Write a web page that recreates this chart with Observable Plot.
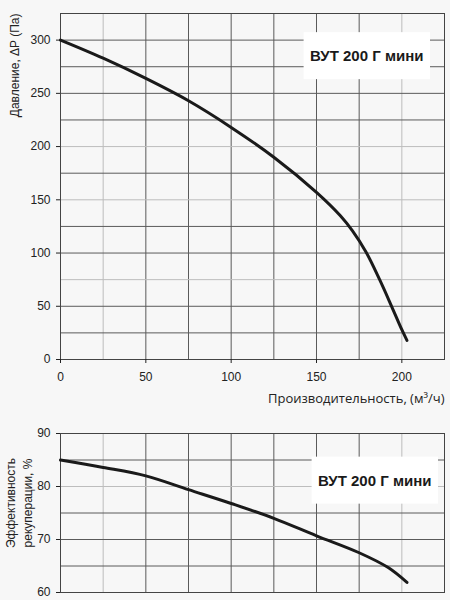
<!DOCTYPE html>
<html>
<head>
<meta charset="utf-8">
<script src="https://cdn.jsdelivr.net/npm/d3@7"></script>
<script src="https://cdn.jsdelivr.net/npm/@observablehq/plot@0.6"></script>
<style>
  html, body { margin: 0; padding: 0; background: #f7f7f7; }
  #chart { width: 450px; }
  #chart svg { display: block; }
</style>
</head>
<body>
<div id="chart"></div>
<script>
// Pressure curve
const flowP = [0, 25, 50, 75, 100, 125, 150, 164, 171, 179, 187, 194, 200, 203];
const pressure = [300, 283, 264, 243, 218, 190, 157, 135, 121, 101, 75, 50, 28, 18];
// Efficiency curve
const flowE = [0, 25, 50, 75, 100, 125, 150, 175, 192, 203];
const efficiency = [85, 83.6, 82.0, 79.4, 76.8, 74.0, 70.7, 67.5, 64.7, 61.9];

const xGrid = [0, 25, 50, 75, 100, 125, 150, 175, 200, 225];
const xTicks = [0, 50, 100, 150, 200];
const yGridP = [0, 25, 50, 75, 100, 125, 150, 175, 200, 225, 250, 275, 300, 325];
const yTicksP = [0, 50, 100, 150, 200, 250, 300];
const yGridE = [60, 65, 70, 75, 80, 85, 90];
const yTicksE = [60, 70, 80, 90];

const title = "ВУТ 200 Г мини";
const xLabel = "Производительность, (м³/ч)";
const yLabelP = "Давление, ΔP (Па)";
const yLabelE = "Эффективность\nрекуперации, %";

// grid lines drawn in a lighter grey in the original
const lightXP = [25, 200], lightYP = [75, 150, 200];
const lightXE = [25, 200], lightYE = [80];

const dataP = flowP.map((q, i) => ({q, v: pressure[i]}));
const dataE = flowE.map((q, i) => ({q, v: efficiency[i]}));

const font = "'Liberation Sans', Arial, sans-serif";
const style = {fontFamily: font, fontSize: "12px", background: "#f7f7f7", color: "#222"};
const gridColor = "#5a5a5a", lightColor = "#bdbdbd";
const gc = light => d => light.includes(d) ? lightColor : gridColor;

const topChart = Plot.plot({
  width: 450, height: 418,
  marginLeft: 60, marginRight: 6, marginTop: 13, marginBottom: 59,
  style,
  x: {domain: [0, 225]},
  y: {domain: [0, 325]},
  marks: [
    Plot.gridX(xGrid, {stroke: gc(lightXP), strokeOpacity: 1}),
    Plot.gridY(yGridP, {stroke: gc(lightYP), strokeOpacity: 1}),
    Plot.frame({stroke: "#444"}),
    Plot.axisX(xTicks, {tickSize: 4, tickPadding: 9, label: null, fontSize: 12, fontFamily: font, fill: "#222"}),
    Plot.axisY(yTicksP, {tickSize: 4, tickPadding: 6, label: null, fontSize: 12, fontFamily: font, fill: "#222"}),
    Plot.line(dataP, {x: "q", y: "v", curve: "catmull-rom", stroke: "#1a1a1a", strokeWidth: 3}),
    Plot.text([yLabelP], {frameAnchor: "top-left", rotate: -90, textAnchor: "end", dx: -50, dy: 0, fontSize: 12, fontFamily: font, fill: "#222"}),
    Plot.text([xLabel], {frameAnchor: "bottom-right", textAnchor: "end", dy: 43, fontSize: 13, fontFamily: "'Open Sans', sans-serif", fill: "#222"}),
    Plot.text([title], {frameAnchor: "top-right", textAnchor: "end", dx: -21, dy: 37, fontSize: 15, fontFamily: font, fontWeight: "bold", fill: "#1a1a1a"})
  ]
});

const bottomChart = Plot.plot({
  width: 450, height: 182,
  marginLeft: 60, marginRight: 6, marginTop: 15, marginBottom: 8,
  style,
  x: {domain: [0, 225], axis: null},
  y: {domain: [60, 90], axis: null},
  marks: [
    Plot.gridX(xGrid, {stroke: gc(lightXE), strokeOpacity: 1}),
    Plot.gridY(yGridE, {stroke: gc(lightYE), strokeOpacity: 1}),
    Plot.frame({stroke: "#444"}),
    Plot.axisY(yTicksE, {tickSize: 4, tickPadding: 6, label: null, fontSize: 12, fontFamily: font, fill: "#222"}),
    Plot.line(dataE, {x: "q", y: "v", curve: "catmull-rom", stroke: "#1a1a1a", strokeWidth: 3}),
    Plot.text([yLabelE], {frameAnchor: "left", rotate: -90, textAnchor: "middle", lineHeight: 1.4, dx: -42, dy: -10, fontSize: 12, fontFamily: font, fill: "#222"}),
    Plot.text([title], {frameAnchor: "top-right", textAnchor: "end", dx: -13, dy: 41.5, fontSize: 15, fontFamily: font, fontWeight: "bold", fill: "#1a1a1a"})
  ]
});

const chart = document.getElementById("chart");
chart.appendChild(topChart);
chart.appendChild(bottomChart);

// white boxes behind the model labels
[topChart, bottomChart].forEach(svg => {
  d3.select(svg).selectAll("text").filter(function() { return this.textContent === title; }).each(function() {
    const bb = this.getBBox();
    const padX = 6.5, h = 47;
    const node = this;
    d3.select(node.parentNode).insert("rect", () => node)
      .attr("transform", node.getAttribute("transform"))
      .attr("x", bb.x - padX)
      .attr("y", bb.y + bb.height / 2 - h / 2)
      .attr("width", bb.width + 2 * padX)
      .attr("height", h)
      .attr("fill", "#ffffff");
  });
});
</script>
</body>
</html>
